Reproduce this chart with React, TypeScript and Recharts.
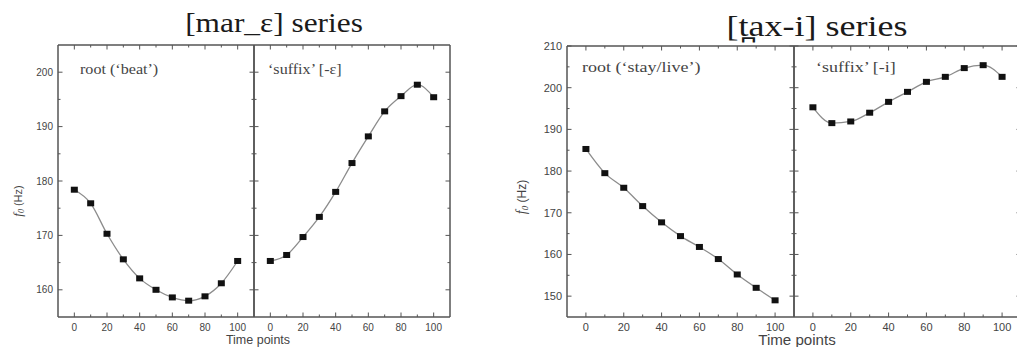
import { LineChart, Line, XAxis, YAxis } from "recharts";

const timePoints = [0, 10, 20, 30, 40, 50, 60, 70, 80, 90, 100];

// [mar_ε] series
const beatRoot = [178.4, 175.9, 170.3, 165.6, 162.1, 160.0, 158.6, 158.0, 158.8, 161.2, 165.3];
const epsSuffix = [165.3, 166.4, 169.7, 173.4, 178.0, 183.3, 188.2, 192.8, 195.6, 197.7, 195.4];

// [t̪ax-i] series
const stayRoot = [185.3, 179.5, 176.0, 171.6, 167.7, 164.4, 161.8, 158.9, 155.2, 152.0, 149.0];
const iSuffix = [195.3, 191.5, 191.9, 194.0, 196.6, 199.0, 201.4, 202.6, 204.7, 205.4, 202.6];

const xTicks = [0, 10, 20, 30, 40, 50, 60, 70, 80, 90, 100];
const xLabelled = [0, 20, 40, 60, 80, 100];
const marYTicks = [160, 165, 170, 175, 180, 185, 190, 195, 200];
const marYLabelled = [160, 170, 180, 190, 200];
const taxYTicks = [150, 155, 160, 165, 170, 175, 180, 185, 190, 195, 200, 205, 210];
const taxYLabelled = [150, 160, 170, 180, 190, 200, 210];

const W = 1017;
const H = 347;
const AXIS = "#555";
const TEXT = "#444";
const SANS = "'Liberation Sans', Arial, sans-serif";
const SERIF = "'Liberation Serif', 'Times New Roman', serif";

function makeXTick(side: "top" | "bottom", fontSize: number) {
  return (props: any) => {
    const { x, y, payload } = props;
    const v = payload.value;
    const major = xLabelled.includes(v);
    const dir = side === "top" ? 1 : -1;
    return (
      <g>
        <line x1={x} x2={x} y1={y} y2={y + dir * (major ? 4.5 : 2.5)} stroke={AXIS} strokeWidth={1} />
        {side === "bottom" && major && (
          <text x={x} y={y + 14} textAnchor="middle" fontSize={fontSize} fontFamily={SANS} fill={TEXT}>
            {v}
          </text>
        )}
      </g>
    );
  };
}

function makeYTick(side: "left" | "right", labelled: number[], showLabel: boolean, fontSize: number) {
  return (props: any) => {
    const { x, y, payload } = props;
    const v = payload.value;
    const major = labelled.includes(v);
    const dir = side === "left" ? 1 : -1;
    return (
      <g>
        <line x1={x} x2={x + dir * (major ? 4.5 : 2.5)} y1={y} y2={y} stroke={AXIS} strokeWidth={1} />
        {side === "left" && showLabel && major && (
          <text x={x - 5} y={y} dy="0.35em" textAnchor="end" fontSize={fontSize} fontFamily={SANS} fill={TEXT}>
            {v}
          </text>
        )}
      </g>
    );
  };
}

const SquareDot = (props: any) => {
  const { cx, cy } = props;
  if (cx == null || cy == null) return null;
  return <rect x={cx - 3.5} y={cy - 3} width={7} height={6} fill="#111" />;
};

interface SubplotProps {
  values: number[];
  yDomain: [number, number];
  yTicks: number[];
  yLabelled: number[];
  plotLeft: number;
  plotRight: number;
  plotTop: number;
  plotBottom: number;
  showY: boolean;
  fontSize: number;
}

function Subplot({
  values,
  yDomain,
  yTicks,
  yLabelled,
  plotLeft,
  plotRight,
  plotTop,
  plotBottom,
  showY,
  fontSize,
}: SubplotProps) {
  const axisWidth = showY ? 60 : 4;
  const pad = 4;
  const width = axisWidth + (plotRight - plotLeft) + 1 + pad;
  const data = timePoints.map((t, i) => ({ t, f0: values[i] }));

  return (
    <div style={{ position: "absolute", left: plotLeft - axisWidth, top: 0 }}>
      <LineChart width={width} height={H} data={data} margin={{ top: plotTop - 1, right: pad, bottom: 0, left: 0 }}>
        <XAxis
          dataKey="t"
          type="number"
          domain={[-10, 110]}
          ticks={xTicks}
          interval={0}
          height={H - plotBottom}
          tickSize={0}
          tickMargin={0}
          tickLine={false}
          axisLine={{ stroke: AXIS, strokeWidth: 1.5 }}
          tick={makeXTick("bottom", fontSize)}
          allowDataOverflow
        />
        <XAxis
          xAxisId="top"
          dataKey="t"
          orientation="top"
          type="number"
          domain={[-10, 110]}
          ticks={xTicks}
          interval={0}
          height={1}
          tickSize={0}
          tickMargin={0}
          tickLine={false}
          axisLine={{ stroke: AXIS, strokeWidth: 1.5 }}
          tick={makeXTick("top", fontSize)}
          allowDataOverflow
        />
        <YAxis
          type="number"
          domain={yDomain}
          ticks={yTicks}
          interval={0}
          width={axisWidth}
          tickSize={0}
          tickMargin={0}
          tickLine={false}
          axisLine={{ stroke: AXIS, strokeWidth: 1.5 }}
          tick={makeYTick("left", yLabelled, showY, fontSize)}
          allowDataOverflow
        />
        <YAxis
          yAxisId="right"
          orientation="right"
          type="number"
          domain={yDomain}
          ticks={yTicks}
          interval={0}
          width={1}
          tickSize={0}
          tickMargin={0}
          tickLine={false}
          axisLine={{ stroke: AXIS, strokeWidth: 1.5 }}
          tick={makeYTick("right", yLabelled, false, fontSize)}
          allowDataOverflow
        />
        {/* invisible twin so the top/right frame axes get drawn */}
        <Line
          xAxisId="top"
          yAxisId="right"
          dataKey="f0"
          stroke="none"
          dot={false}
          activeDot={false}
          isAnimationActive={false}
        />
        <Line
          type="monotone"
          dataKey="f0"
          stroke="#8c8c8c"
          strokeWidth={1.3}
          dot={<SquareDot />}
          activeDot={false}
          isAnimationActive={false}
        />
      </LineChart>
    </div>
  );
}

function Text({ x, y, size, family, children, anchor = "left", color = TEXT, stretch = 1 }: any) {
  const shift = anchor === "center" ? "translateX(-50%) " : "";
  return (
    <div
      style={{
        position: "absolute",
        left: x,
        top: y,
        transform: `${shift}scaleX(${stretch})`,
        transformOrigin: anchor === "center" ? "50% 50%" : "0 50%",
        fontSize: size,
        fontFamily: family,
        lineHeight: 1,
        whiteSpace: "nowrap",
        color,
      }}
    >
      {children}
    </div>
  );
}

function YLabel({ x, y, size }: { x: number; y: number; size: number }) {
  return (
    <div
      style={{
        position: "absolute",
        left: x,
        top: y,
        transform: "translate(-50%, -50%) rotate(-90deg)",
        fontSize: size,
        fontFamily: SANS,
        whiteSpace: "nowrap",
        color: TEXT,
        lineHeight: 1,
      }}
    >
      <span style={{ fontFamily: SERIF, fontStyle: "italic", fontSize: size + 2 }}>f</span>
      <span style={{ fontFamily: SERIF, fontStyle: "italic", fontSize: size - 3, verticalAlign: -2 }}>0</span>
      {" (Hz)"}
    </div>
  );
}

export default function App() {
  return (
    <div
      style={{
        position: "fixed",
        left: 0,
        top: 0,
        width: W,
        height: H,
        overflow: "hidden",
        background: "#fff",
      }}
    >
      {/* left panel: [mar_ε] */}
      <Subplot values={beatRoot} yDomain={[155, 205]} yTicks={marYTicks} yLabelled={marYLabelled}
        plotLeft={58} plotRight={254} plotTop={45} plotBottom={317} showY fontSize={10} />
      <Subplot values={epsSuffix} yDomain={[155, 205]} yTicks={marYTicks} yLabelled={marYLabelled}
        plotLeft={254} plotRight={450} plotTop={45} plotBottom={317} showY={false} fontSize={10} />
      <Text x={274} y={9} size={28} family={SERIF} anchor="center" color="#1a1a1a" stretch={1.12}>[mar_ε] series</Text>
      <Text x={80} y={63} size={14} family={SERIF} stretch={1.15}>root (‘beat’)</Text>
      <Text x={268} y={63} size={14} family={SERIF} stretch={1.15}>‘suffix’ [-ε]</Text>
      <YLabel x={18} y={201} size={11} />
      <Text x={258} y={334} size={12.5} family={SANS} anchor="center">Time points</Text>

      {/* right panel: [t̪ax-i] */}
      <Subplot values={stayRoot} yDomain={[145, 210]} yTicks={taxYTicks} yLabelled={taxYLabelled}
        plotLeft={567} plotRight={794} plotTop={46} plotBottom={317} showY fontSize={11} />
      <Subplot values={iSuffix} yDomain={[145, 210]} yTicks={taxYTicks} yLabelled={taxYLabelled}
        plotLeft={794} plotRight={1021} plotTop={46} plotBottom={317} showY={false} fontSize={11} />
      <Text x={817} y={11} size={30} family={SERIF} anchor="center" color="#1a1a1a" stretch={1.2}>[t̪ax-i] series</Text>
      <Text x={582} y={60} size={15} family={SERIF} stretch={1.2}>root (‘stay/live’)</Text>
      <Text x={816} y={60} size={15} family={SERIF} stretch={1.2}>‘suffix’ [-i]</Text>
      <YLabel x={522} y={197} size={12} />
      <Text x={797} y={333} size={14} family={SANS} anchor="center" stretch={1.08}>Time points</Text>
    </div>
  );
}
